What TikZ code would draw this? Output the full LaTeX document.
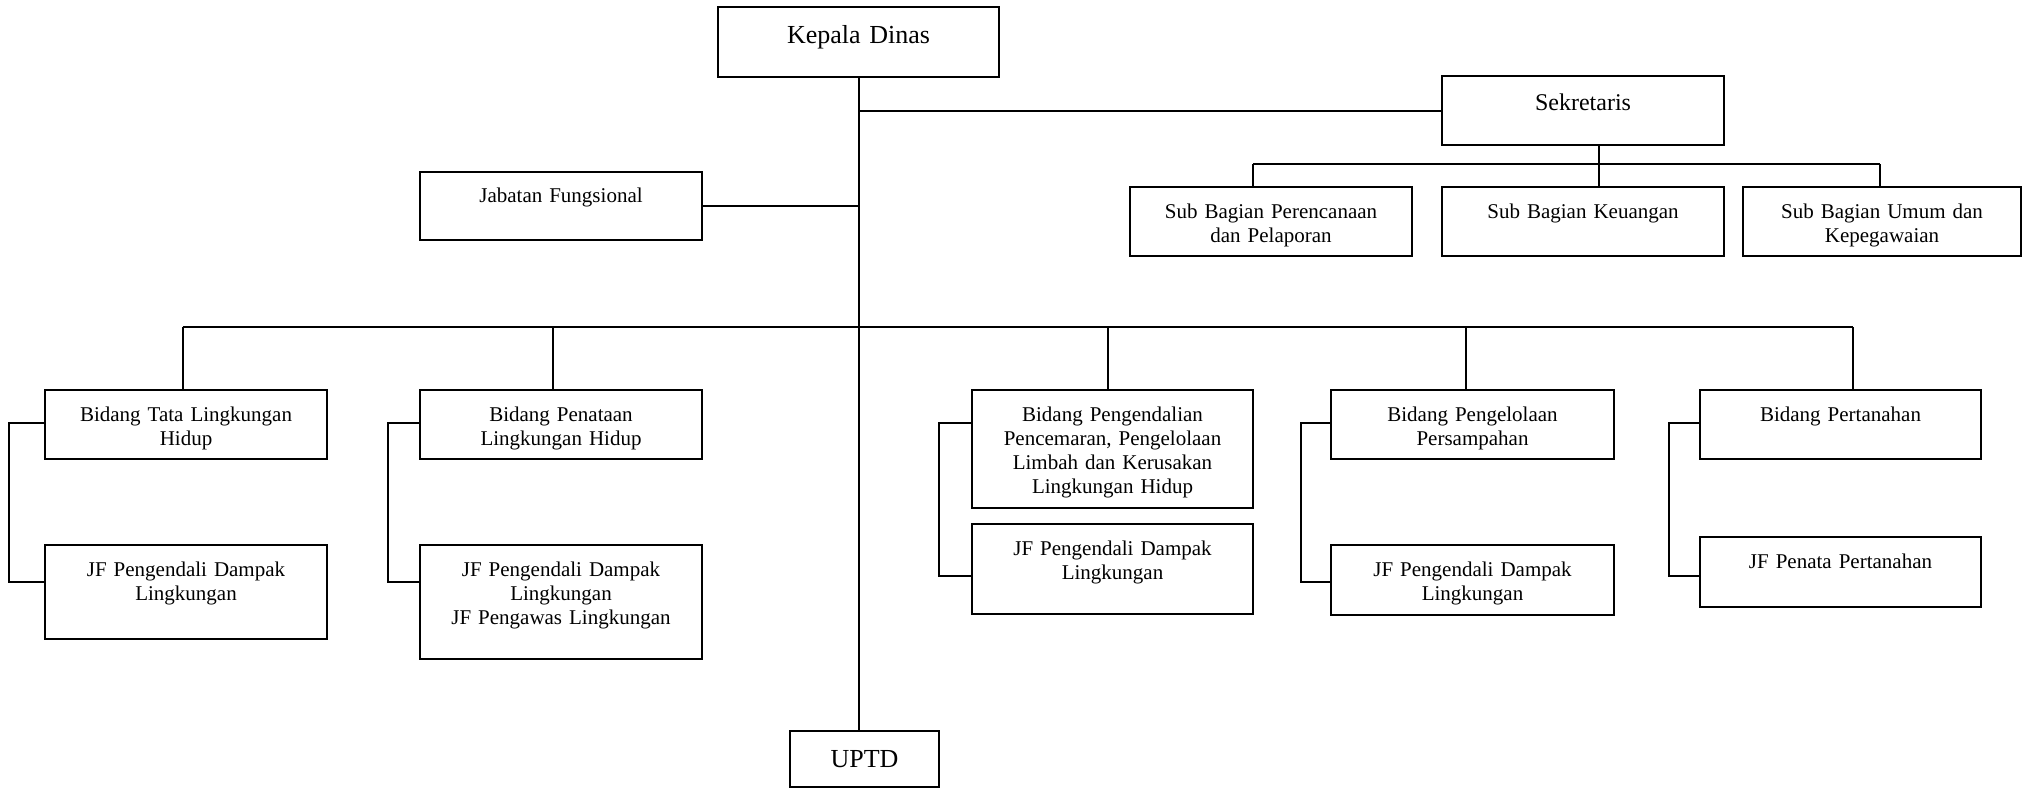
\documentclass[tikz,border=0pt]{standalone}
\usepackage{fontspec}
\setmainfont{Liberation Serif}
\usetikzlibrary{calc}
\tikzset{
  obox/.style={draw, line width=1pt, inner sep=0pt, outer sep=0pt},
  otxt/.style={anchor=base, inner sep=0pt, align=center, text width=136pt, font=\fontsize{10.5}{12.1}\selectfont},
  bigtxt/.style={font=\fontsize{13}{15}\selectfont},
  midtxt/.style={font=\fontsize{12}{14}\selectfont},
  conn/.style={line width=1pt},
}
\newcommand\orgbox[5]{\node[obox, minimum width={(#4-#2)*0.5pt}, minimum height={(#5-#3)*0.5pt}] (#1) at ({(#2+#4)/2},{(#3+#5)/2}) {};}
\newcommand\orgtext[4]{\node[otxt,#3] (#1t) at ($(#1.north)+(0,#2)$) {#4};}
\begin{document}
\begin{tikzpicture}[x=0.5pt,y=-0.5pt]
\useasboundingbox (0,0) rectangle (2023,789);
% boxes
\orgbox{kd}{718}{7}{999}{77}
\orgbox{jf}{420}{172}{702}{240}
\orgbox{sek}{1442}{76}{1724}{145}
\orgbox{sub1}{1130}{187}{1412}{256}
\orgbox{sub2}{1442}{187}{1724}{256}
\orgbox{sub3}{1743}{187}{2021}{256}
\orgbox{b1}{45}{390}{327}{459}
\orgbox{j1}{45}{545}{327}{639}
\orgbox{b2}{420}{390}{702}{459}
\orgbox{j2}{420}{545}{702}{659}
\orgbox{b3}{972}{390}{1253}{508}
\orgbox{j3}{972}{524}{1253}{614}
\orgbox{b4}{1331}{390}{1614}{459}
\orgbox{j4}{1331}{545}{1614}{615}
\orgbox{b5}{1700}{390}{1981}{459}
\orgbox{j5}{1700}{537}{1981}{607}
\orgbox{uptd}{790}{731}{939}{787}
% texts
\orgtext{kd}{36}{bigtxt}{Kepala Dinas}
\orgtext{sek}{34}{midtxt}{Sekretaris}
\orgtext{jf}{30}{}{Jabatan Fungsional}
\orgtext{sub1}{31.5}{}{Sub Bagian Perencanaan\\dan Pelaporan}
\orgtext{sub2}{31.5}{}{Sub Bagian Keuangan}
\orgtext{sub3}{31.5}{}{Sub Bagian Umum dan\\Kepegawaian}
\orgtext{b1}{31}{}{Bidang Tata Lingkungan\\Hidup}
\orgtext{j1}{31.5}{}{JF Pengendali Dampak\\Lingkungan}
\orgtext{b2}{31}{}{Bidang Penataan\\Lingkungan Hidup}
\orgtext{j2}{31.5}{}{JF Pengendali Dampak\\Lingkungan\\JF Pengawas Lingkungan}
\orgtext{b3}{31}{}{Bidang Pengendalian\\Pencemaran, Pengelolaan\\Limbah dan Kerusakan\\Lingkungan Hidup}
\orgtext{j3}{31}{}{JF Pengendali Dampak\\Lingkungan}
\orgtext{b4}{31}{}{Bidang Pengelolaan\\Persampahan}
\orgtext{j4}{31.5}{}{JF Pengendali Dampak\\Lingkungan}
\orgtext{b5}{31}{}{Bidang Pertanahan}
\orgtext{j5}{31}{}{JF Penata Pertanahan}
\orgtext{uptd}{36}{bigtxt}{UPTD}
% main trunk
\draw[conn] (kd.south) -- (kd.south |- uptd.north);
\draw[conn] (kd.south |- sek.west) -- (sek.west);
\draw[conn] (jf.east) -- (jf.east -| kd.south);
% secretariat
\coordinate (s1) at (1253,164);
\coordinate (sd) at (1599,164);
\coordinate (s3) at (1880,164);
\draw[conn] (sd |- sek.south) -- (sd);
\draw[conn] (s1) -- (s3);
\draw[conn] (s1) -- (s1 |- sub1.north);
\draw[conn] (sd) -- (sd |- sub2.north);
\draw[conn] (s3) -- (s3 |- sub3.north);
% bidang bus
\coordinate (d1) at (182.5,327);
\coordinate (d2) at (552.5,327);
\coordinate (d3) at (1108,327);
\coordinate (d4) at (1465.5,327);
\coordinate (d5) at (1852.5,327);
\draw[conn] (d1) -- (d5);
\draw[conn] (d1) -- (d1 |- b1.north);
\draw[conn] (d2) -- (d2 |- b2.north);
\draw[conn] (d3) -- (d3 |- b3.north);
\draw[conn] (d4) -- (d4 |- b4.north);
\draw[conn] (d5) -- (d5 |- b5.north);
% brackets
\coordinate (k1) at (9,423);     \coordinate (k1b) at (9,582);
\coordinate (k2) at (387.5,423); \coordinate (k2b) at (387.5,582);
\coordinate (k3) at (939,423);   \coordinate (k3b) at (939,576);
\coordinate (k4) at (1301,423);  \coordinate (k4b) at (1301,582);
\coordinate (k5) at (1668.5,423);\coordinate (k5b) at (1668.5,576);
\draw[conn] (k1 -| b1.west) -- (k1) -- (k1b) -- (k1b -| j1.west);
\draw[conn] (k2 -| b2.west) -- (k2) -- (k2b) -- (k2b -| j2.west);
\draw[conn] (k3 -| b3.west) -- (k3) -- (k3b) -- (k3b -| j3.west);
\draw[conn] (k4 -| b4.west) -- (k4) -- (k4b) -- (k4b -| j4.west);
\draw[conn] (k5 -| b5.west) -- (k5) -- (k5b) -- (k5b -| j5.west);
\end{tikzpicture}
\end{document}
